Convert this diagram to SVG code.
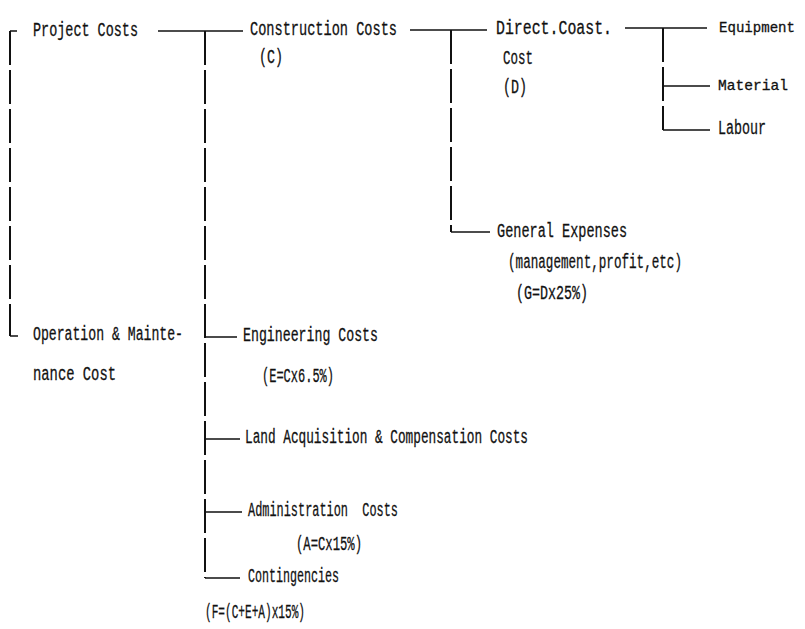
<svg xmlns="http://www.w3.org/2000/svg" width="805" height="629" viewBox="0 0 805 629">
<style>
text{font-family:"Liberation Mono","DejaVu Sans Mono",monospace;font-size:20px;fill:#111;stroke:#111;stroke-width:0.3;white-space:pre;}
text.r{font-size:15px;}
.v{stroke:#111;stroke-width:2;fill:none;stroke-dasharray:34 5;}
.h{stroke:#111;stroke-width:1.4;fill:none;}
</style>
<rect width="805" height="629" fill="#fff"/>
<g id="connectors">
<path class="v" d="M10,31 V336"/>
<path class="h" d="M10,31 H17 M10,336 H18"/>
<path class="h" d="M158,31 H243"/>
<path class="v" d="M205,31 V578"/>
<path class="h" d="M205,578 H240 M205,337 H237 M205,439 H240 M205,512 H242"/>
<path class="h" d="M410,30 H487"/>
<path class="v" d="M451,30 V232"/>
<path class="h" d="M451,232 H490"/>
<path class="h" d="M625,28 H707"/>
<path class="v" d="M663,28 V130"/>
<path class="h" d="M663,86 H710 M663,130 H710"/>
</g>
<g id="project"><text x="33" y="36" textLength="105" lengthAdjust="spacingAndGlyphs">Project Costs</text></g>
<g id="construction">
<text x="250" y="35" textLength="147" lengthAdjust="spacingAndGlyphs">Construction Costs</text>
<text x="259" y="63" textLength="24" lengthAdjust="spacingAndGlyphs">(C)</text>
</g>
<g id="direct">
<text x="496" y="34" textLength="116" lengthAdjust="spacingAndGlyphs">Direct.Coast.</text>
<text x="503" y="64" textLength="30" lengthAdjust="spacingAndGlyphs">Cost</text>
<text x="503" y="93" textLength="24" lengthAdjust="spacingAndGlyphs">(D)</text>
</g>
<g id="equipment"><text class="r" x="719" y="32" textLength="76" lengthAdjust="spacingAndGlyphs">Equipment</text></g>
<g id="material"><text class="r" x="718" y="90" textLength="70" lengthAdjust="spacingAndGlyphs">Material</text></g>
<g id="labour"><text x="718" y="134" textLength="48" lengthAdjust="spacingAndGlyphs">Labour</text></g>
<g id="general">
<text x="497" y="237" textLength="130" lengthAdjust="spacingAndGlyphs">General Expenses</text>
<text x="508" y="268" textLength="174" lengthAdjust="spacingAndGlyphs">(management,profit,etc)</text>
<text x="516" y="299" textLength="72" lengthAdjust="spacingAndGlyphs">(G=Dx25%)</text>
</g>
<g id="operation">
<text x="33" y="340" textLength="150" lengthAdjust="spacingAndGlyphs">Operation &amp; Mainte-</text>
<text x="33" y="380" textLength="83" lengthAdjust="spacingAndGlyphs">nance Cost</text>
</g>
<g id="engineering">
<text x="243" y="341" textLength="135" lengthAdjust="spacingAndGlyphs">Engineering Costs</text>
<text x="262" y="382" textLength="72" lengthAdjust="spacingAndGlyphs">(E=Cx6.5%)</text>
</g>
<g id="land"><text x="245" y="443" textLength="283" lengthAdjust="spacingAndGlyphs">Land Acquisition &amp; Compensation Costs</text></g>
<g id="administration">
<text x="248" y="516" textLength="150" lengthAdjust="spacingAndGlyphs" xml:space="preserve">Administration  Costs</text>
<text x="296" y="550" textLength="66" lengthAdjust="spacingAndGlyphs">(A=Cx15%)</text>
</g>
<g id="contingencies">
<text x="248" y="582" textLength="91" lengthAdjust="spacingAndGlyphs">Contingencies</text>
<text x="205" y="618" textLength="100" lengthAdjust="spacingAndGlyphs">(F=(C+E+A)x15%)</text>
</g>
</svg>
